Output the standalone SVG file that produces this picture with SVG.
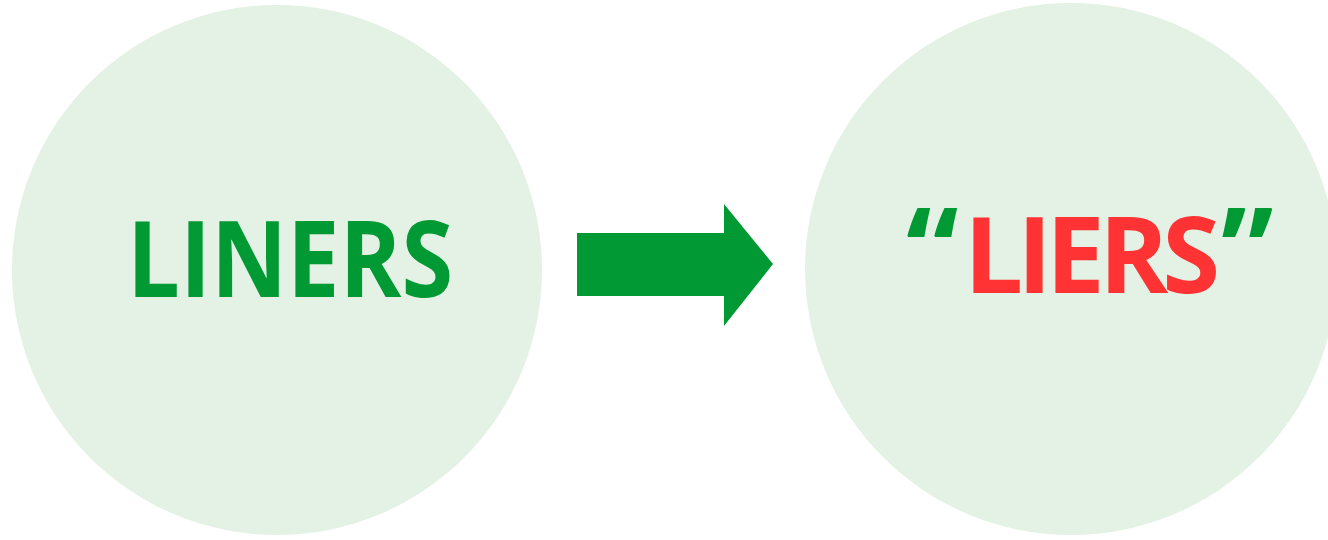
<svg xmlns="http://www.w3.org/2000/svg" width="1328" height="540" viewBox="0 0 1328 540">
<style>
.bg{fill:#E3F2E5}
.t{font-family:"Open Sans","Liberation Sans",sans-serif;font-weight:bold}
.g{fill:#009933}
.r{fill:#FF3333}
</style>
<rect width="1328" height="540" fill="#FFFFFF"/>
<g id="node-liners">
<circle class="bg" cx="277" cy="270" r="265"/>
<text class="t g" x="127" y="297" font-size="105" textLength="326" lengthAdjust="spacingAndGlyphs">LINERS</text>
</g>
<g id="connectors">
<polygon class="g" points="577,233 724,233 724,204 773,264 724,326 724,296 577,296"/>
</g>
<g id="node-liers">
<circle class="bg" cx="1071" cy="269" r="266"/>
<text class="t" y="293" font-size="105"><tspan class="g" x="906" font-size="118">“</tspan><tspan class="r" x="964" letter-spacing="-6">LIERS</tspan><tspan class="g" x="1221" font-size="118">”</tspan></text>
</g>
</svg>
